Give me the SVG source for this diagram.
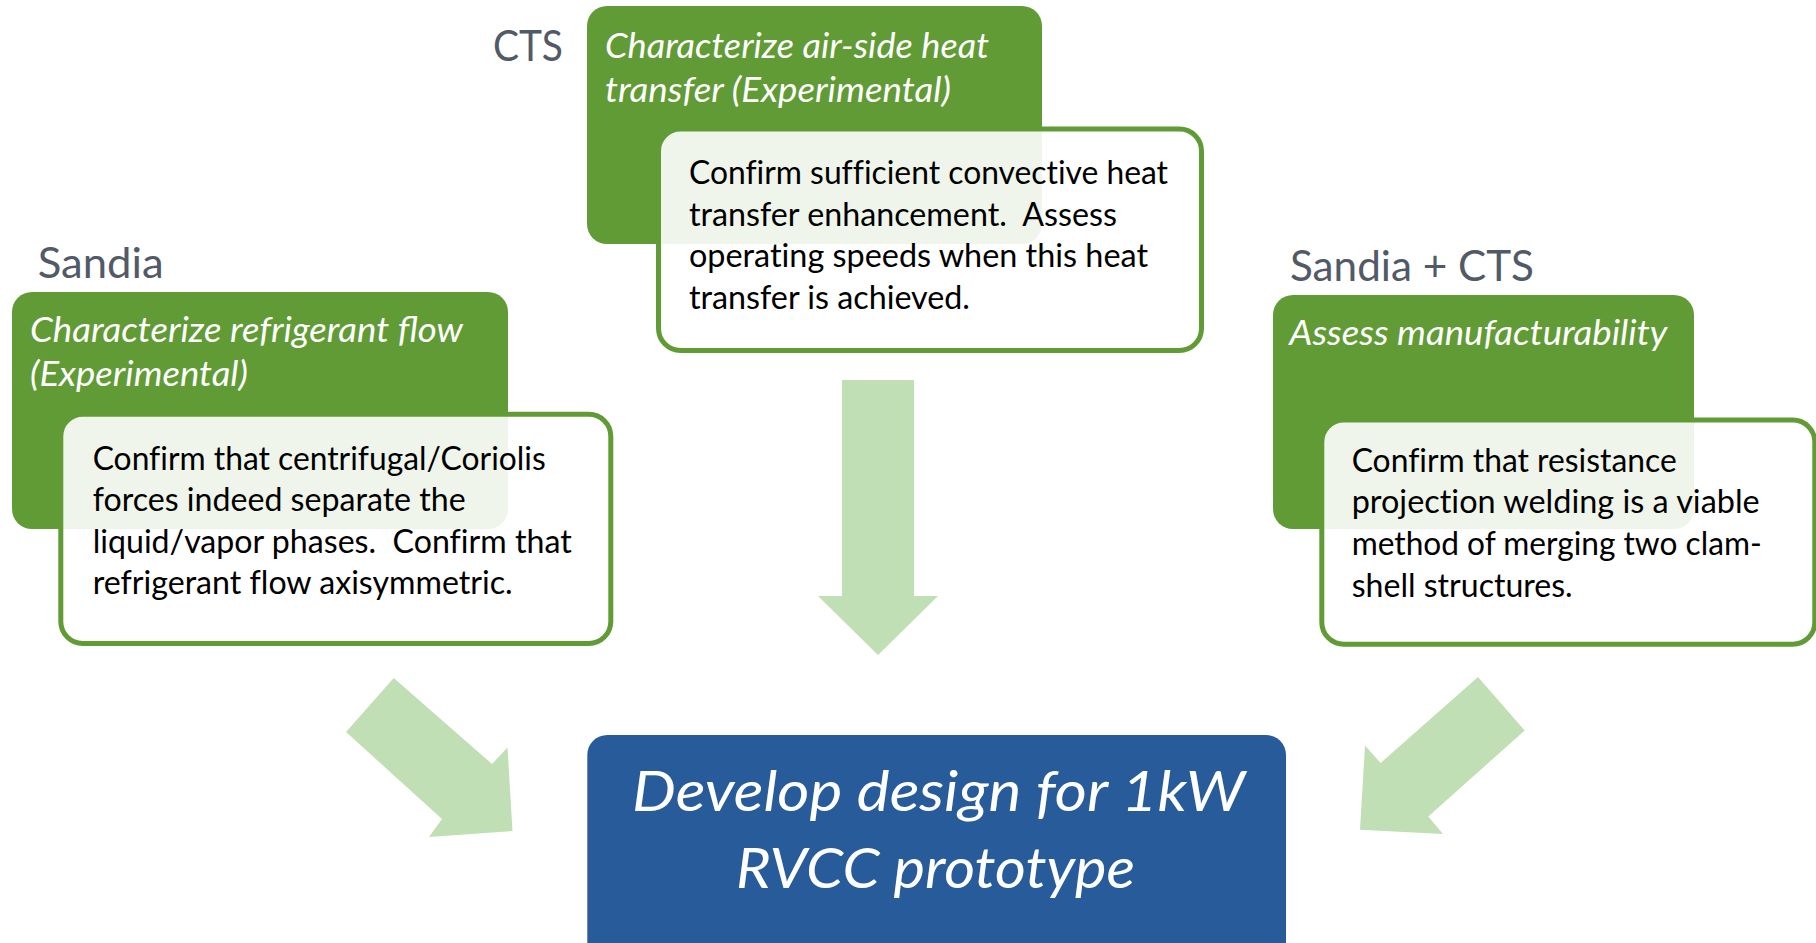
<svg xmlns="http://www.w3.org/2000/svg" width="1816" height="943" viewBox="0 0 1816 943">
<style>
.hdr{font-family:Lato,"Open Sans","Liberation Sans",sans-serif;font-size:42px;fill:#515a66}
.gbox{fill:#619b36}
.wbox{fill:#ffffff;fill-opacity:0.9;stroke:#619b36;stroke-width:5}
.gtxt{font-family:Lato,"Open Sans","Liberation Sans",sans-serif;font-style:italic;font-size:34px;fill:#ffffff}
.btxt{font-family:Lato,"Open Sans","Liberation Sans",sans-serif;font-size:32px;fill:#000000;white-space:pre;font-variant-ligatures:none}
.arrow{fill:#c1dfb4}
.blue{fill:#285b9a}
.ttxt{font-family:Lato,"Open Sans","Liberation Sans",sans-serif;font-style:italic;font-size:56px;fill:#ffffff}
</style>
<rect width="1816" height="943" fill="#ffffff"/>
<g id="connectors">
<polygon class="arrow" points="842,380 914,380 914,596 938,596 878,655 818,596 842,596"/>
<polygon class="arrow" points="393.75,678 492,764 507.5,747.5 512.5,831 429,837 442,819 346,732"/>
<polygon class="arrow" points="1478,677 1524.7,730.4 1428.3,816.6 1443,834 1360,829.7 1365,745.5 1380.6,763"/>
</g>
<g id="node-cts">
<text class="hdr" x="493" y="61" textLength="70" lengthAdjust="spacingAndGlyphs">CTS</text>
<rect class="gbox" x="587" y="6" width="455" height="238" rx="20"/>
<text class="gtxt" x="605" y="58" textLength="384" lengthAdjust="spacingAndGlyphs">Characterize air-side heat</text>
<text class="gtxt" x="605" y="101.5" textLength="346" lengthAdjust="spacingAndGlyphs">transfer (Experimental)</text>
<rect class="wbox" x="658.5" y="129" width="543" height="221.5" rx="22"/>
<text class="btxt" x="689" y="184" textLength="479" lengthAdjust="spacingAndGlyphs">Confirm sufficient convective heat</text>
<text class="btxt" x="689" y="225.5" textLength="428" lengthAdjust="spacingAndGlyphs" xml:space="preserve">transfer enhancement.  Assess</text>
<text class="btxt" x="689" y="267" textLength="459" lengthAdjust="spacingAndGlyphs">operating speeds when this heat</text>
<text class="btxt" x="689" y="308.5" textLength="281" lengthAdjust="spacingAndGlyphs">transfer is achieved.</text>
</g>
<g id="node-sandia">
<text class="hdr" x="37.7" y="277.5" textLength="126" lengthAdjust="spacingAndGlyphs">Sandia</text>
<rect class="gbox" x="12" y="292" width="496" height="237" rx="20"/>
<text class="gtxt" x="30" y="342" textLength="433" lengthAdjust="spacingAndGlyphs">Characterize refrigerant flow</text>
<text class="gtxt" x="30" y="386" textLength="218" lengthAdjust="spacingAndGlyphs">(Experimental)</text>
<rect class="wbox" x="60.8" y="414.2" width="550" height="229.3" rx="22"/>
<text class="btxt" x="92.7" y="469.5" textLength="453" lengthAdjust="spacingAndGlyphs">Confirm that centrifugal/Coriolis</text>
<text class="btxt" x="92.7" y="511" textLength="373" lengthAdjust="spacingAndGlyphs">forces indeed separate the</text>
<text class="btxt" x="92.7" y="552.5" textLength="479" lengthAdjust="spacingAndGlyphs" xml:space="preserve">liquid/vapor phases.  Confirm that</text>
<text class="btxt" x="92.7" y="594" textLength="420" lengthAdjust="spacingAndGlyphs">refrigerant flow axisymmetric.</text>
</g>
<g id="node-sandia-cts">
<text class="hdr" x="1290" y="281" textLength="244" lengthAdjust="spacingAndGlyphs">Sandia + CTS</text>
<rect class="gbox" x="1273" y="295" width="421" height="234" rx="20"/>
<text class="gtxt" x="1289.3" y="345" textLength="378" lengthAdjust="spacingAndGlyphs">Assess manufacturability</text>
<rect class="wbox" x="1321.8" y="420" width="493" height="224.2" rx="22"/>
<text class="btxt" x="1351.7" y="471.5" textLength="325" lengthAdjust="spacingAndGlyphs">Confirm that resistance</text>
<text class="btxt" x="1351.7" y="513" textLength="408" lengthAdjust="spacingAndGlyphs">projection welding is a viable</text>
<text class="btxt" x="1351.7" y="555" textLength="410" lengthAdjust="spacingAndGlyphs">method of merging two clam-</text>
<text class="btxt" x="1351.7" y="596.5" textLength="221" lengthAdjust="spacingAndGlyphs">shell structures.</text>
</g>
<g id="node-design">
<rect class="blue" x="587.3" y="735" width="698.7" height="240" rx="20"/>
<text class="ttxt" x="632" y="811" textLength="613" lengthAdjust="spacingAndGlyphs">Develop design for 1kW</text>
<text class="ttxt" x="736" y="888" textLength="399" lengthAdjust="spacingAndGlyphs">RVCC prototype</text>
</g>
</svg>
